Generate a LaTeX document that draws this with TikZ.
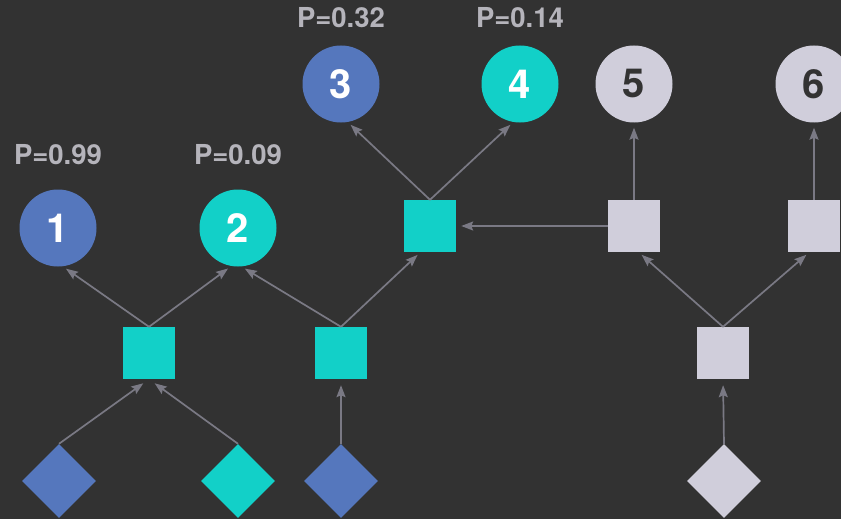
\documentclass[tikz,border=0pt]{standalone}
\usepackage{fontspec}
\setmainfont{TeX Gyre Heros}
\usetikzlibrary{arrows.meta, shapes.geometric, backgrounds}

\definecolor{bgdark}{HTML}{323232}
\definecolor{nodeblue}{HTML}{5577BD}
\definecolor{nodeteal}{HTML}{12D0C8}
\definecolor{nodegray}{HTML}{D0CEDB}
\definecolor{linkgray}{HTML}{7A7984}
\definecolor{probgray}{HTML}{B5B4BB}
\definecolor{darktext}{HTML}{333333}

\begin{document}
\begin{tikzpicture}[x=1pt,y=1pt,
  outcome/.style={circle, minimum size=77pt, inner sep=0pt,
    font=\fontsize{40}{40}\selectfont\bfseries},
  gate/.style={rectangle, minimum size=52pt, inner sep=0pt},
  source/.style={diamond, minimum width=74pt, minimum height=74pt, inner sep=0pt},
  prob/.style={text=probgray, font=\fontsize{27.5}{27.5}\selectfont\bfseries},
  flow/.style={draw=linkgray, line width=1.7pt, shorten >=4pt,
    -{Stealth[length=12pt,width=9pt,inset=2pt]}}]

  \useasboundingbox (0,-519) rectangle (841,0);
  \fill [bgdark] (0,-519) rectangle (841,0);

  % Blue branch: outcomes 1 and 3 with their sources
  \begin{scope}[text=white]
    \node [outcome, fill=nodeblue] (cr1) at (58,-228) {1};
    \node [outcome, fill=nodeblue] (cr3) at (341,-84) {3};
    \node [source, fill=nodeblue] (dd1) at (59,-481) {};
    \node [source, fill=nodeblue] (dd3) at (341,-481) {};
  \end{scope}

  % Teal branch: outcomes 2 and 4, the active gates
  \begin{scope}[text=white]
    \node [outcome, fill=nodeteal] (cr2) at (238,-228) {2};
    \node [outcome, fill=nodeteal] (cr4) at (520,-84) {4};
    \node [gate, fill=nodeteal] (sqa) at (149,-353) {};
    \node [gate, fill=nodeteal] (sqb) at (341,-353) {};
    \node [gate, fill=nodeteal] (sqc) at (430,-226) {};
    \node [source, fill=nodeteal] (dd2) at (238,-481) {};
  \end{scope}

  % Gray branch: outcomes 5 and 6, inactive part
  \begin{scope}[text=darktext]
    \node [outcome, fill=nodegray] (cr5) at (634,-84) {5};
    \node [outcome, fill=nodegray] (cr6) at (814,-84) {6};
    \node [gate, fill=nodegray] (sqd) at (634,-226) {};
    \node [gate, fill=nodegray] (sqe) at (814,-226) {};
    \node [gate, fill=nodegray] (sqf) at (723,-353) {};
    \node [source, fill=nodegray] (dd4) at (724,-481) {};
  \end{scope}

  % Probabilities over the coloured outcomes
  \node [prob] (pr1) at (58,-155) {P=0.99};
  \node [prob] (pr2) at (238,-155) {P=0.09};
  \node [prob] (pr3) at (341,-18) {P=0.32};
  \node [prob] (pr4) at (520,-18) {P=0.14};

  % Connections, bottom to top
  \path [every edge/.style={flow}]
    (dd1.north) edge [shorten >=7pt] (sqa.south)
    (dd2.north) edge [shorten >=7pt] (sqa.south)
    (dd3.north) edge [shorten >=6pt] (sqb.south)
    (dd4.north) edge [shorten >=6pt] (sqf.south)
    (sqa.north) edge (cr1.-83) edge (cr2.-100)
    (sqb.north) edge (cr2.-85) edge (sqc.-110)
    (sqc.north) edge (cr3.-80) edge (cr4.-100)
    (sqd.west) edge [shorten >=5pt] (sqc.east)
    (sqd.north) edge [shorten >=5pt] (cr5.south)
    (sqe.north) edge [shorten >=5pt] (cr6.south)
    (sqf.north) edge (sqd.-80) edge (sqe.-100);
\end{tikzpicture}
\end{document}
